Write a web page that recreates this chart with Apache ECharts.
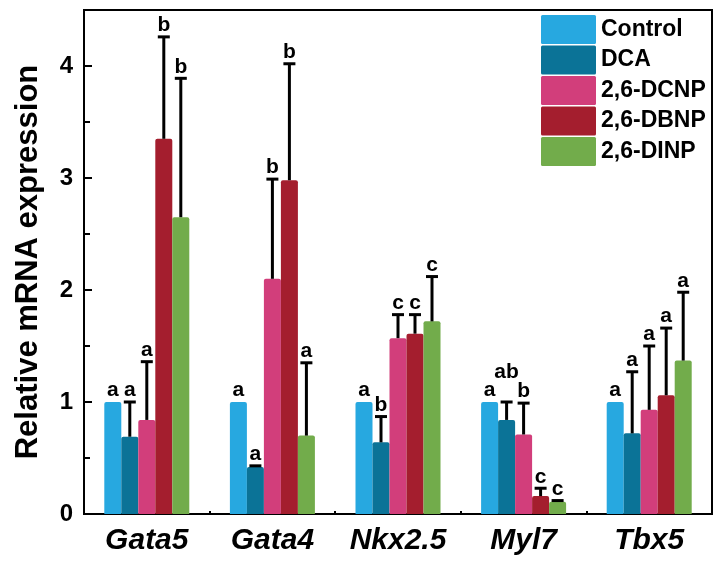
<!DOCTYPE html>
<html>
<head>
<meta charset="utf-8">
<script src="https://cdn.jsdelivr.net/npm/echarts@6/dist/echarts.min.js"></script>
<style>
html,body{margin:0;padding:0;background:#fff;}
#c{width:713px;height:563px;}
</style>
</head>
<body>
<div id="c"></div>
<script>
var genes = ['Gata5', 'Gata4', 'Nkx2.5', 'Myl7', 'Tbx5'];
var groups = ['Control', 'DCA', '2,6-DCNP', '2,6-DBNP', '2,6-DINP'];

var controlMean = [1.00, 1.00, 1.00, 1.00, 1.00];
var dcaMean     = [0.69, 0.42, 0.64, 0.84, 0.72];
var dcnpMean    = [0.84, 2.10, 1.57, 0.71, 0.93];
var dbnpMean    = [3.35, 2.98, 1.61, 0.16, 1.06];
var dinpMean    = [2.65, 0.70, 1.72, 0.11, 1.37];

var controlSd = [0, 0, 0, 0, 0];
var dcaSd     = [0.31, 0.01, 0.23, 0.16, 0.55];
var dcnpSd    = [0.52, 0.89, 0.21, 0.28, 0.57];
var dbnpSd    = [0.91, 1.04, 0.17, 0.07, 0.60];
var dinpSd    = [1.24, 0.65, 0.40, 0.01, 0.61];

var controlLetters = ['a', 'a', 'a', 'a', 'a'];
var dcaLetters     = ['a', 'a', 'b', 'ab', 'a'];
var dcnpLetters    = ['a', 'b', 'c', 'b', 'a'];
var dbnpLetters    = ['b', 'b', 'c', 'c', 'a'];
var dinpLetters    = ['b', 'a', 'c', 'c', 'a'];

var yTicks = [0, 1, 2, 3, 4];

var means = [controlMean, dcaMean, dcnpMean, dbnpMean, dinpMean];
var sds = [controlSd, dcaSd, dcnpSd, dbnpSd, dinpSd];
var letters = [controlLetters, dcaLetters, dcnpLetters, dbnpLetters, dinpLetters];
var colors = ['#27a8e0', '#0b7397', '#d23e7b', '#a41e2e', '#72ac4b'];

var FONT = "'Liberation Sans', Arial, sans-serif";
var BAR_W = 17;

var series = [];
groups.forEach(function (g, k) {
  series.push({
    name: g,
    type: 'bar',
    data: means[k],
    barWidth: BAR_W,
    barGap: '0%',
    itemStyle: { color: colors[k], borderRadius: [2, 2, 0, 0] },
    z: 2
  });
});
groups.forEach(function (g, k) {
  var d = means[k].map(function (m, i) { return [i, m, sds[k][i]]; });
  series.push({
    type: 'custom',
    z: 5,
    data: d,
    renderItem: function (params, api) {
      var ci = api.value(0), m = api.value(1), sd = api.value(2);
      var base = api.coord([ci, m]);
      var top = api.coord([ci, m + sd]);
      var x = base[0] + (k - 2) * BAR_W;
      var children = [];
      if (sd > 0) {
        children.push({ type: 'line', shape: { x1: x, y1: base[1], x2: x, y2: top[1] },
          style: { stroke: '#000', lineWidth: 3 } });
        children.push({ type: 'line', shape: { x1: x - 6, y1: top[1], x2: x + 6, y2: top[1] },
          style: { stroke: '#000', lineWidth: 3 } });
      }
      var txt = letters[k][params.dataIndex];
      var lift = txt.length > 1 ? 18 : 0;
      children.push({ type: 'text', x: x, y: top[1] - 1 - lift,
        style: { text: txt, fill: '#000',
          font: 'bold 21px ' + FONT, textAlign: 'center', textVerticalAlign: 'bottom' } });
      return { type: 'group', children: children };
    }
  });
});

var chart = echarts.init(document.getElementById('c'), null, { renderer: 'canvas' });
chart.setOption({
  animation: false,
  backgroundColor: '#fff',
  grid: { left: 84, right: 1, top: 10, bottom: 49, show: true, borderColor: '#000', borderWidth: 2 },
  legend: {
    data: groups,
    orient: 'vertical',
    left: 541,
    top: 15,
    itemWidth: 55,
    itemHeight: 29,
    itemGap: 1.5,
    icon: 'path://M1.5,0 L53.5,0 Q55,0 55,1.5 L55,27.5 Q55,29 53.5,29 L1.5,29 Q0,29 0,27.5 L0,1.5 Q0,0 1.5,0 Z',
    itemStyle: { borderWidth: 0 },
    textStyle: { fontFamily: FONT, fontWeight: 'bold', fontSize: 23, color: '#000' },
    padding: 0
  },
  xAxis: [{
    type: 'category',
    data: genes,
    position: 'bottom',
    axisLine: { lineStyle: { color: '#000', width: 2 } },
    axisTick: { show: true, inside: true, alignWithLabel: true, length: 7, lineStyle: { color: '#000', width: 2 } },
    axisLabel: { interval: 0, hideOverlap: false, fontFamily: FONT, fontWeight: 'bold', fontStyle: 'italic', fontSize: 30, color: '#000', margin: 12 }
  }, {
    type: 'category',
    data: genes,
    position: 'bottom',
    offset: 0,
    axisLine: { show: false },
    axisTick: { show: true, inside: true, length: 3, lineStyle: { color: '#000', width: 2 } },
    axisLabel: { show: false }
  }],
  yAxis: {
    type: 'value',
    min: 0,
    max: 4.5,
    interval: 1,
    name: 'Relative mRNA expression',
    nameLocation: 'middle',
    nameGap: 40,
    nameTextStyle: { fontFamily: FONT, fontWeight: 'bold', fontSize: 31, color: '#000' },
    axisLine: { show: true, lineStyle: { color: '#000', width: 2 } },
    axisTick: { show: true, inside: true, length: 8, lineStyle: { color: '#000', width: 2 } },
    minorTick: { show: true, splitNumber: 2, length: 6, lineStyle: { color: '#000', width: 2 } },
    splitLine: { show: false },
    axisLabel: {
      fontFamily: FONT, fontWeight: 'bold', fontSize: 24, color: '#000', margin: 11,
      formatter: function (v) { return yTicks.indexOf(v) >= 0 ? String(v) : ''; }
    }
  },
  series: series
});
</script>
</body>
</html>
